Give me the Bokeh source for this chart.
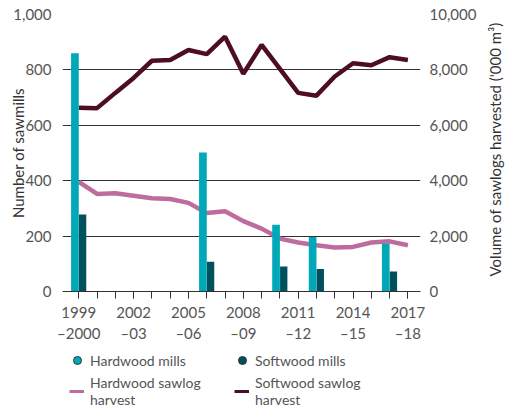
import math
from bokeh.plotting import figure
from bokeh.layouts import column, row
from bokeh.models import (Range1d, LinearAxis, FixedTicker, Legend, LegendItem, Label,
                          ColumnDataSource, NumeralTickFormatter)
from bokeh.transform import dodge
from bokeh.embed import file_html
from bokeh.resources import INLINE

# ---------------- data ----------------
years = ["1999–2000", "2000–01", "2001–02", "2002–03", "2003–04", "2004–05", "2005–06",
         "2006–07", "2007–08", "2008–09", "2009–10", "2010–11", "2011–12", "2012–13",
         "2013–14", "2014–15", "2015–16", "2016–17", "2017–18"]
softwood_harvest = [6630, 6620, 7170, 7710, 8330, 8360, 8720, 8570, 9200, 7860,
                    8900, 8040, 7170, 7070, 7760, 8240, 8170, 8460, 8360]
hardwood_harvest = [3960, 3520, 3550, 3460, 3370, 3340, 3200, 2830, 2900, 2540,
                    2270, 1910, 1770, 1670, 1590, 1610, 1770, 1810, 1670]
mill_years = ["1999–2000", "2006–07", "2010–11", "2012–13", "2016–17"]
hardwood_mills = [860, 502, 241, 197, 173]
softwood_mills = [278, 107, 90, 81, 72]
tick_years = ["1999–2000", "2002–03", "2005–06", "2008–09", "2011–12", "2014–15", "2017–18"]
tick_labels = ["1999\n–2000", "2002\n–03", "2005\n–06", "2008\n–09", "2011\n–12", "2014\n–15", "2017\n–18"]
left_ticks = [0, 200, 400, 600, 800, 1000]
right_ticks = [0, 2000, 4000, 6000, 8000, 10000]
left_title = "Number of sawmills"
right_title = "Volume of sawlogs harvested ('000 m³)"
mill_labels = ["Hardwood mills", "Softwood mills"]
harvest_labels = ["Hardwood sawlog\nharvest", "Softwood sawlog\nharvest"]

# ---------------- styles ----------------
C_HW_MILL = "#00A8B8"
C_SW_MILL = "#00505E"
C_HW_LOG = "#BE6C9E"
C_SW_LOG = "#4D0E25"
GRID = "#333333"
TXT = "#555555"
TITLE = "#333333"
FONT = "Lato"

idx = list(range(len(years)))
line_src = ColumnDataSource(dict(i=idx, sw=softwood_harvest, hw=hardwood_harvest))
bar_src = ColumnDataSource(dict(i=[years.index(y) for y in mill_years],
                                hw=hardwood_mills, sw=softwood_mills))

p = figure(width=480, height=345, x_range=Range1d(-0.89, 18.69), y_range=Range1d(0, 1000),
           output_backend="svg", toolbar_location=None,
           min_border_left=62, min_border_right=60, min_border_top=14, min_border_bottom=52)
p.outline_line_color = None
p.extra_y_ranges = {"vol": Range1d(0, 10000)}

# grid
p.xgrid.visible = False
p.ygrid.ticker = FixedTicker(ticks=left_ticks)
p.ygrid.grid_line_color = GRID
p.ygrid.grid_line_width = 1

# left axis
ya = p.yaxis[0]
ya.ticker = FixedTicker(ticks=left_ticks)
ya.formatter = NumeralTickFormatter(format="0,0")
ya.axis_line_color = None
ya.major_tick_line_color = None
ya.minor_tick_line_color = None
ya.major_label_standoff = 5
ya.major_label_text_font = FONT
ya.major_label_text_font_size = "15px"
ya.major_label_text_color = TXT
ya.axis_label = left_title
ya.axis_label_standoff = -17
ya.axis_label_text_font = FONT
ya.axis_label_text_font_size = "15px"
ya.axis_label_text_font_style = "normal"
ya.axis_label_text_color = TITLE

# right axis
ra = LinearAxis(y_range_name="vol", ticker=FixedTicker(ticks=right_ticks),
                formatter=NumeralTickFormatter(format="0,0"))
ra.axis_line_color = None
ra.major_tick_line_color = None
ra.minor_tick_line_color = None
ra.major_label_standoff = 3
ra.major_label_text_font = FONT
ra.major_label_text_font_size = "15px"
ra.major_label_text_color = TXT
p.add_layout(ra, "right")

# bottom axis
xa = p.xaxis[0]
xa.ticker = FixedTicker(ticks=[years.index(y) for y in tick_years], minor_ticks=idx)
xa.major_label_overrides = {years.index(y): t for y, t in zip(tick_years, tick_labels)}
xa.axis_line_color = GRID
xa.major_tick_line_color = GRID
xa.minor_tick_line_color = GRID
xa.major_tick_in = 0
xa.minor_tick_in = 0
xa.major_tick_out = 7
xa.minor_tick_out = 7
xa.major_label_standoff = 4
xa.major_label_text_font = FONT
xa.major_label_text_font_size = "15px"
xa.major_label_text_color = TXT

# lines (under bars)
p.line("i", "sw", source=line_src, y_range_name="vol", line_color=C_SW_LOG, line_width=4.5)
p.line("i", "hw", source=line_src, y_range_name="vol", line_color=C_HW_LOG, line_width=4.5)

# bars
p.vbar(x=dodge("i", -0.21, range=p.x_range), top="hw", width=0.42, source=bar_src,
       fill_color=C_HW_MILL, line_color=None)
p.vbar(x=dodge("i", 0.21, range=p.x_range), top="sw", width=0.40, source=bar_src,
       fill_color=C_SW_MILL, line_color=None)

# ---------------- right title strip ----------------
rs = figure(width=25, height=345, x_range=Range1d(0, 1), y_range=Range1d(0, 1),
            output_backend="svg", toolbar_location=None,
            x_axis_location=None, y_axis_location=None,
            min_border_left=0, min_border_top=0, min_border_right=0, min_border_bottom=0)
rs.outline_line_color = None
rs.grid.visible = False
rs.add_layout(Label(x=14, y=196, x_units="screen", y_units="screen", angle=math.pi / 2,
                    text=right_title, text_align="center", text_baseline="middle",
                    text_font=FONT, text_font_size="15px", text_color=TITLE))


# ---------------- legend strips (frames align with the chart frame) ----------------
def strip(h):
    f = figure(width=480, height=h, x_range=Range1d(0, 1), y_range=Range1d(0, 1),
               output_backend="svg", toolbar_location=None,
               x_axis_location=None, y_axis_location=None,
               min_border_left=62, min_border_top=0, min_border_right=60, min_border_bottom=0)
    f.outline_line_color = None
    f.grid.visible = False
    return f


def style(lg, m):
    lg.border_line_color = None
    lg.background_fill_alpha = 0
    lg.padding = 0
    lg.margin = m
    lg.spacing = 5
    lg.label_height = 16
    lg.label_text_font = FONT
    lg.label_text_font_size = "14px"
    lg.label_text_color = TXT
    return lg


nan = [float("nan")]

lf1 = strip(22)
e_hw = lf1.scatter(x=nan, y=nan, marker="circle", size=12, fill_color=C_HW_MILL, line_color="#333333")
e_sw = lf1.scatter(x=nan, y=nan, marker="circle", size=12, fill_color=C_SW_MILL, line_color="#333333")
lg1 = style(Legend(items=[LegendItem(label=t, renderers=[r]) for t, r in zip(mill_labels, [e_hw, e_sw])],
                   location="top_left", orientation="horizontal"), 5)
lg1.glyph_width = 20
lg1.glyph_height = 20
lg1.label_standoff = 3
lg1.label_width = 137
lf1.add_layout(lg1)

lf2 = strip(41)
l_hw = lf2.line(x=nan, y=nan, line_color=C_HW_LOG, line_width=3)
l_sw = lf2.line(x=nan, y=nan, line_color=C_SW_LOG, line_width=3)
lg2 = style(Legend(items=[LegendItem(label=t, renderers=[r]) for t, r in zip(harvest_labels, [l_hw, l_sw])],
                   location="top_left", orientation="vertical", ncols=2), 7)
lg2.glyph_width = 15
lg2.glyph_height = 14
lg2.label_standoff = 6
lg2.label_width = 139
lf2.add_layout(lg2)

open("out.html", "w").write(file_html(row(column(p, lf1, lf2), rs), INLINE))
